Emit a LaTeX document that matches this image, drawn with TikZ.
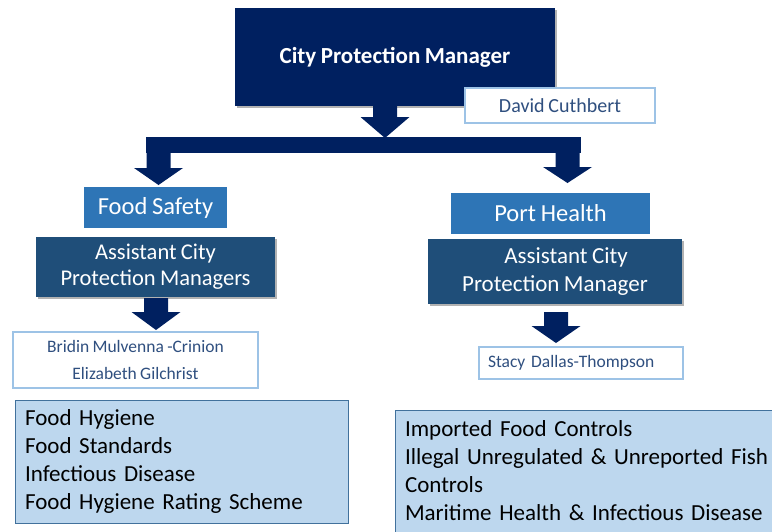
\documentclass[tikz,border=0pt]{standalone}
\usepackage{fontspec}
\setmainfont{Carlito}[WordSpace=0.85]
\usetikzlibrary{shadows}
\definecolor{navy}{HTML}{002060}
\definecolor{midblue}{HTML}{2E75B6}
\definecolor{darkblue}{HTML}{1F4E79}
\definecolor{paleblue}{HTML}{BDD7EE}
\definecolor{edgeblue}{HTML}{41719C}
\definecolor{lightedge}{HTML}{9DC3E6}
\definecolor{nametext}{HTML}{2F4F7F}
% block arrow: centre x, shaft top, head top, tip
\newcommand\blkarrow[4]{\fill[navy] (#1-12,#2) -- (#1+12,#2) -- (#1+12,#3) -- (#1+24.5,#3) -- (#1,#4) -- (#1-24.5,#3) -- (#1-12,#3) -- cycle;}
\tikzset{
  base/.style={rectangle, inner sep=0pt, outer sep=0pt, align=center},
  shad/.style={drop shadow={shadow xshift=2pt, shadow yshift=-2pt, opacity=0.3, fill=black}},
  topbox/.style={base, fill=navy, text=white, font=\fontsize{23}{28}\selectfont\bfseries, shad},
  namebox/.style={base, draw=lightedge, line width=1.2pt, fill=white, text=nametext},
  unitbox/.style={base, fill=midblue, text=white, font=\fontsize{24.5}{29}\selectfont},
  asstbox/.style={base, fill=darkblue, text=white, shad},
  dutybox/.style={base, fill=paleblue, draw=edgeblue, line width=0.8pt, align=left, text=black, font=\fontsize{23}{28}\selectfont, inner xsep=10pt},
  barbox/.style={base, fill=navy}
}
\begin{document}
\begin{tikzpicture}[x=1pt,y=-1pt]
\useasboundingbox (0,0) rectangle (772,531);
\clip (0,0) rectangle (772,531);

\node[topbox, minimum width=320pt, minimum height=98pt] (top) at (395,57) {City Protection Manager};
\blkarrow{385}{93}{117}{138}
\node[namebox, minimum width=190pt, minimum height=35pt, font=\fontsize{20}{24}\selectfont] (david) at (560,105.5) {David Cuthbert};

\node[barbox, minimum width=435pt, minimum height=16pt] (bar) at (363.5,145) {};
\blkarrow{158.5}{150}{168}{185}
\blkarrow{567.5}{150}{167}{183}

\node[unitbox, minimum width=143pt, minimum height=41pt] (fs) at (155.5,207.5) {Food Safety};
\node[asstbox, minimum width=239pt, minimum height=60pt, font=\fontsize{22.5}{26}\selectfont] (asstL) at (155.5,267) {Assistant City\\Protection Managers};
\blkarrow{156}{298}{312}{330}
\node[namebox, minimum width=245pt, minimum height=56pt, font=\fontsize{17.5}{27}\selectfont] (namesL) at (135.5,360) {Bridin Mulvenna -Crinion\\Elizabeth Gilchrist};

\node[unitbox, minimum width=199pt, minimum height=41pt] (ph) at (550.5,213.5) {Port Health};
\node[asstbox, minimum width=254pt, minimum height=65pt, font=\fontsize{23}{28}\selectfont] (asstR) at (555,271.5) {\hspace*{22pt}Assistant City\\Protection Manager};
\blkarrow{556}{312}{326}{343}
\node[namebox, minimum width=204pt, minimum height=32pt, text width=186pt, align=left, inner xsep=9pt, font=\fontsize{17.5}{21}\selectfont] (nameR) at (581,363) {Stacy Dallas-Thompson};

\node[dutybox, anchor=north west, text width=313pt, minimum height=123pt] (dutiesL) at (15,400) {Food Hygiene\\Food Standards\\Infectious Disease\\Food Hygiene Rating Scheme};
\node[dutybox, anchor=north west, text width=380pt, minimum height=122pt] (dutiesR) at (395,410) {Imported Food Controls\\Illegal Unregulated \& Unreported Fish\\Controls\\Maritime Health \& Infectious Disease};
\end{tikzpicture}
\end{document}
